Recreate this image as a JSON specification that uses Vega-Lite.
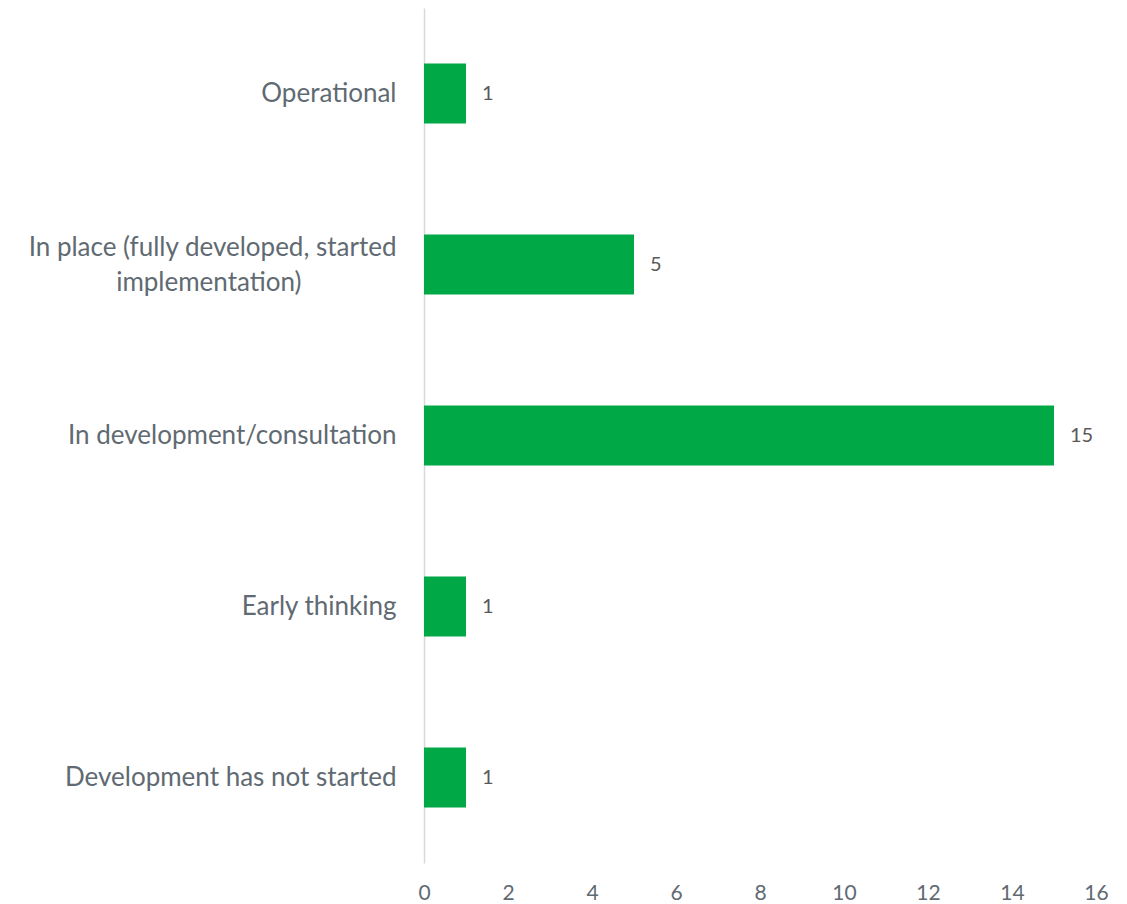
{
  "$schema": "https://vega.github.io/schema/vega-lite/v6.json",
  "width": 672,
  "height": 855,
  "autosize": {"type": "none"},
  "padding": {"left": 424, "top": 8, "right": 31, "bottom": 41},
  "background": "white",
  "config": {"view": {"stroke": null}, "font": "Lato"},
  "data": {
    "values": [
      {"status": "Operational", "count": 1},
      {"status": "In place (fully developed, started implementation)", "count": 5},
      {"status": "In development/consultation", "count": 15},
      {"status": "Early thinking", "count": 1},
      {"status": "Development has not started", "count": 1}
    ]
  },
  "encoding": {
    "y": {
      "field": "status",
      "type": "nominal",
      "sort": null,
      "scale": {"paddingInner": 0.65, "paddingOuter": 0.325},
      "axis": {
        "title": null,
        "ticks": false,
        "domainColor": "#d9d9d9",
        "domainWidth": 1.5,
        "labelColor": "#5f6a72",
        "labelFont": "Lato",
        "labelFontSize": 26,
        "labelPadding": 28,
        "labelLimit": 420,
        "labelLineHeight": 35,
        "labelOffset": {"condition": {"test": "datum.value == 'In place (fully developed, started implementation)'", "value": -17}, "value": 0},
        "labelExpr": "datum.label == 'In place (fully developed, started implementation)' ? ['In place (fully developed, started', 'implementation)\u2800\u2800\u2800\u2800\u2800'] : datum.label"
      }
    },
    "x": {
      "field": "count",
      "type": "quantitative",
      "scale": {"domain": [0, 16]},
      "axis": {
        "title": null,
        "domain": false,
        "ticks": false,
        "grid": false,
        "labelFlush": false,
        "values": [0, 2, 4, 6, 8, 10, 12, 14, 16],
        "labelColor": "#5f6a72",
        "labelFont": "Lato",
        "labelFontSize": 21,
        "labelPadding": 19
      }
    }
  },
  "layer": [
    {"mark": {"type": "bar", "color": "#00A846"}},
    {
      "mark": {"type": "text", "align": "left", "dx": 16, "fontSize": 20, "color": "#595959", "font": "Lato"},
      "encoding": {"text": {"field": "count", "type": "quantitative"}}
    }
  ]
}
